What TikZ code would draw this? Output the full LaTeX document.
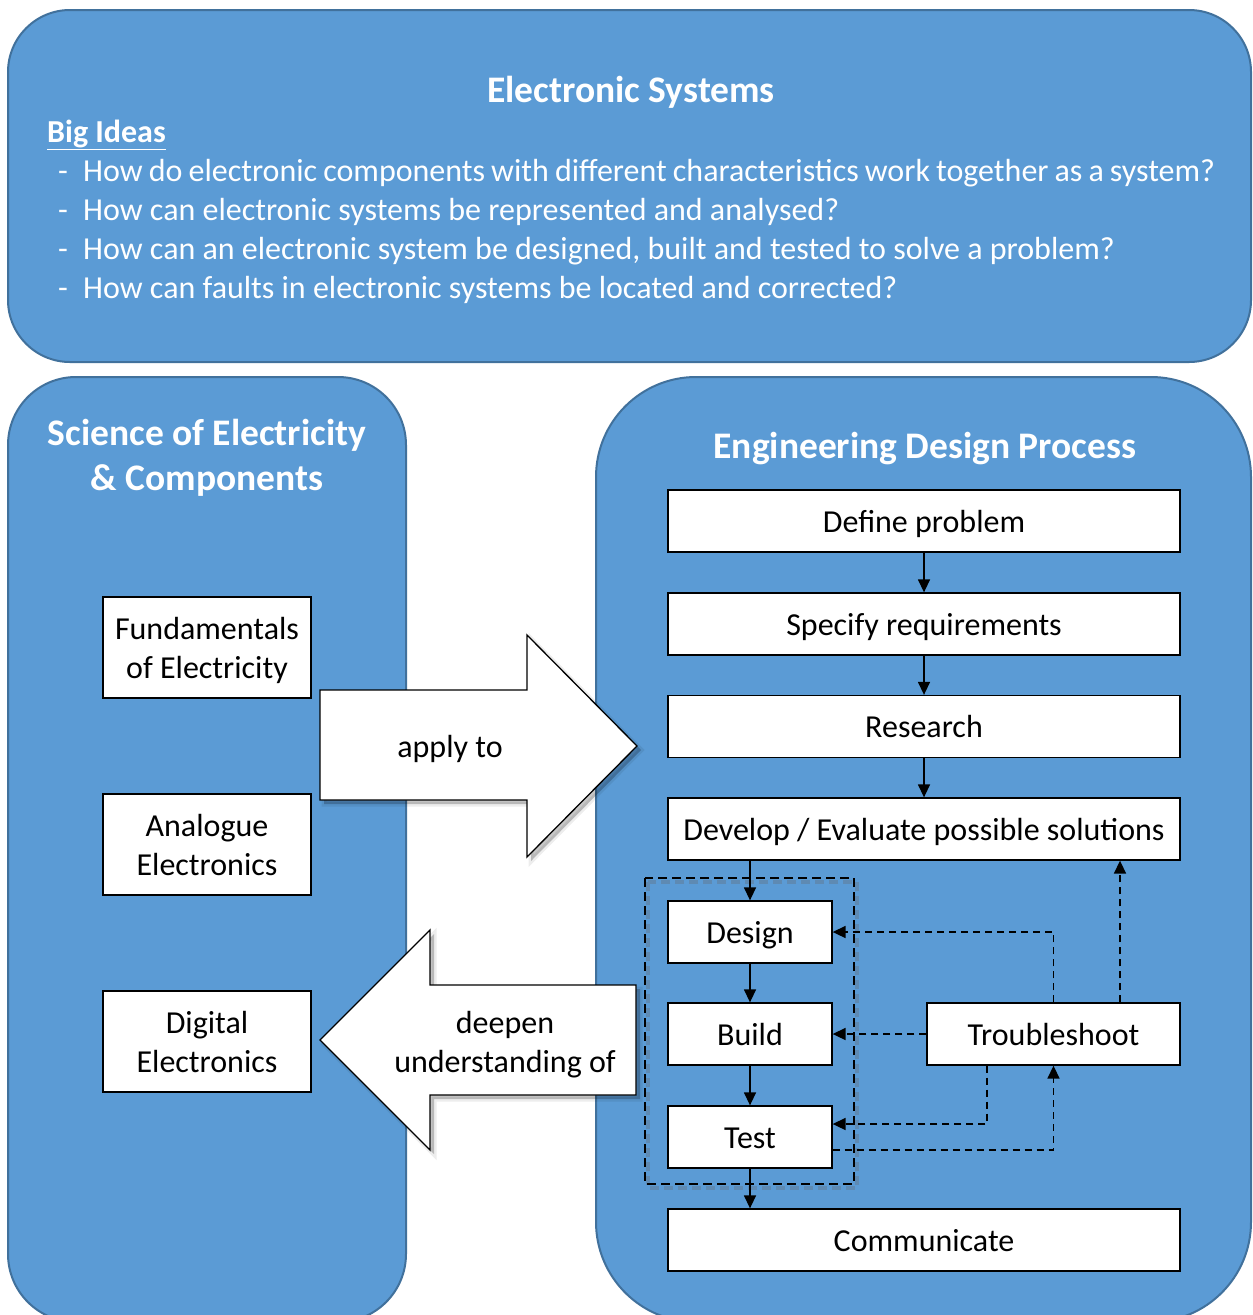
\documentclass[tikz,border=0pt]{standalone}
\usepackage{fontspec}
\setmainfont{Carlito}
\usetikzlibrary{arrows.meta,calc}
\definecolor{panelfill}{HTML}{5B9BD5}
\definecolor{panelline}{HTML}{41719C}
\newcommand{\applyshape}{(320,690) -- (527,690) -- (527,635) -- (637,746) -- (527,857) -- (527,800) -- (320,800) -- cycle}
\newcommand{\deepenshape}{(320,1040) -- (430,930) -- (430,985) -- (636,985) -- (636,1095) -- (430,1095) -- (430,1150) -- cycle}
\begin{document}
\begin{tikzpicture}[x=1pt,y=-1pt,
  panel/.style={draw=panelline, line width=2pt, fill=panelfill},
  paneltitle/.style={text=white, font=\bfseries\fontsize{37.5}{45}\selectfont, align=center, inner sep=0pt},
  bodytext/.style={text=white, font=\fontsize{32}{39}\selectfont, inner sep=0pt, anchor=base west},
  stepbox/.style={draw=black, line width=1.3pt, fill=white, font=\fontsize{32}{39}\selectfont, align=center, inner sep=0pt},
  oneline/.style={text height=24pt, text depth=2pt},
  twoline/.style={text depth=0pt},
  arrowbody/.style={draw=black, line width=1.3pt, fill=white},
  softshadow/.style={draw=black, draw opacity=0.07, line width=5pt, fill=black, fill opacity=0.22},
  arrowtext/.style={font=\fontsize{32}{39}\selectfont, align=center, inner sep=0pt},
  flow/.style={-{Triangle[width=12pt,length=13pt]}, line width=1.4pt},
  dflow/.style={flow, line width=1.6pt, dash pattern=on 7pt off 5pt},
  grouprect/.style={draw=black, line width=2.4pt, dash pattern=on 9pt off 5pt}
]
\useasboundingbox (0,0) rectangle (1253,1315);
\fill[white] (0,0) rectangle (1253,1315);

% panels
\path[panel, rounded corners=62pt] (8,10) rectangle (1251,362);
\path[panel, rounded corners=68pt] (8,377) rectangle (406,1322);
\path[panel, rounded corners=100pt] (596,377) rectangle (1251,1322);

% top panel text
\node[paneltitle] (estitle) at (631,92) {Electronic Systems};
\node[bodytext, font=\bfseries\fontsize{32}{39}\selectfont] (bigideas) at (47,142) {\underline{Big Ideas}};
\node[bodytext] (d1) at (58,181) {-};
\node[bodytext] (q1) at (83,181) {\spaceskip=0.19em plus 0.05em How do electronic components with different characteristics work together as a system?};
\node[bodytext] (d2) at (58,220) {-};
\node[bodytext] (q2) at (83,220) {How can electronic systems be represented and analysed?};
\node[bodytext] (d3) at (58,259) {-};
\node[bodytext] (q3) at (83,259) {How can an electronic system be designed, built and tested to solve a problem?};
\node[bodytext] (d4) at (58,298) {-};
\node[bodytext] (q4) at (83,298) {How can faults in electronic systems be located and corrected?};

% left panel
\node[paneltitle] (sctitle) at (207,458) {Science of Electricity\\\& Components};
\node[stepbox, twoline, minimum width=208pt, minimum height=101pt] (fund) at (207,647.5) {Fundamentals\\of Electricity};
\node[stepbox, twoline, minimum width=208pt, minimum height=101pt] (analog) at (207,844.5) {Analogue\\Electronics};
\node[stepbox, twoline, minimum width=208pt, minimum height=101pt] (digital) at (207,1041.5) {Digital\\Electronics};

% right panel
\node[paneltitle] (edtitle) at (925,449) {Engineering Design Process};
\node[stepbox, oneline, minimum width=512pt, minimum height=62pt] (define) at (924,521) {Define problem};
\node[stepbox, oneline, minimum width=512pt, minimum height=62pt] (specify) at (924,624) {Specify requirements};
\node[stepbox, oneline, minimum width=512pt, minimum height=62pt] (research) at (924,726.5) {Research};
\node[stepbox, oneline, minimum width=512pt, minimum height=62pt] (develop) at (924,829) {Develop / Evaluate possible solutions};
\node[stepbox, oneline, minimum width=164pt, minimum height=62pt] (design) at (750,932) {Design};
\node[stepbox, oneline, minimum width=164pt, minimum height=62pt] (build) at (750,1034) {Build};
\node[stepbox, oneline, minimum width=164pt, minimum height=62pt] (test) at (750,1137) {Test};
\node[stepbox, oneline, minimum width=253pt, minimum height=62pt] (trouble) at (1053.5,1034) {Troubleshoot};
\node[stepbox, oneline, minimum width=512pt, minimum height=62pt] (comm) at (924,1240) {Communicate};

% group rectangle with soft shadow
\draw[grouprect, draw=black!60, opacity=0.3, line width=3.5pt] (648,882) rectangle (857,1188);
\draw[grouprect] (645,878) rectangle (854,1184);

% solid flow arrows
\draw[flow] (define) -- (specify);
\draw[flow] (specify) -- (research);
\draw[flow] (research) -- (develop);
\draw[flow] (design |- develop.south) -- (design.north);
\draw[flow] (design) -- (build);
\draw[flow] (build) -- (test);
\draw[flow] (test.south) -- (test.south |- comm.north);

% dashed feedback arrows
\draw[dflow] (trouble.north) |- (design.east);
\draw[dflow] (trouble.west) -- (build.east);
\draw[dflow] ([xshift=-66.5pt]trouble.south) |- ([yshift=13pt]test.east);
\draw[dflow] ([yshift=-13pt]test.east) -| (trouble.south);
\draw[dflow] ([xshift=66.5pt]trouble.north) -- ([xshift=66.5pt]trouble.north |- develop.south);

% big arrows with soft shadows
\path[softshadow, shift={(4,4)}] \applyshape;
\path[arrowbody] \applyshape;
\node[arrowtext] (applyto) at (450,749) {apply to};
\path[softshadow, shift={(4,4)}] \deepenshape;
\path[arrowbody] \deepenshape;
\node[arrowtext] (deepen) at (505,1045) {deepen\\understanding of};
\end{tikzpicture}
\end{document}
